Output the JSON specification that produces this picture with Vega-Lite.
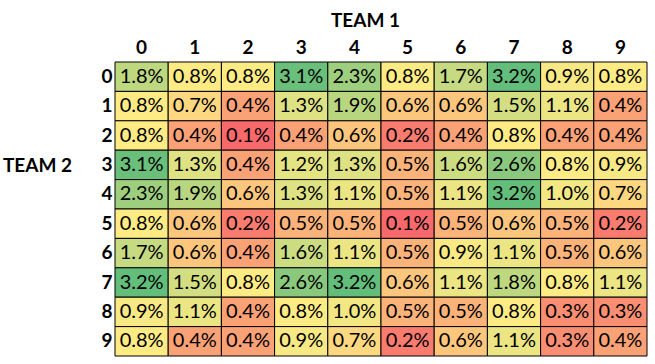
{
  "$schema": "https://vega.github.io/schema/vega-lite/v6.json",
  "width": 532,
  "height": 294,
  "autosize": {"type": "none"},
  "padding": {"left": 115, "top": 62, "right": 8, "bottom": 8},
  "background": "white",
  "config": {"view": {"stroke": null}, "font": "Lato"},
  "data": {"values": [
    {"t2":0,"t1":0,"v":0.018},{"t2":0,"t1":1,"v":0.008},{"t2":0,"t1":2,"v":0.008},{"t2":0,"t1":3,"v":0.031},{"t2":0,"t1":4,"v":0.023},{"t2":0,"t1":5,"v":0.008},{"t2":0,"t1":6,"v":0.017},{"t2":0,"t1":7,"v":0.032},{"t2":0,"t1":8,"v":0.009},{"t2":0,"t1":9,"v":0.008},
    {"t2":1,"t1":0,"v":0.008},{"t2":1,"t1":1,"v":0.007},{"t2":1,"t1":2,"v":0.004},{"t2":1,"t1":3,"v":0.013},{"t2":1,"t1":4,"v":0.019},{"t2":1,"t1":5,"v":0.006},{"t2":1,"t1":6,"v":0.006},{"t2":1,"t1":7,"v":0.015},{"t2":1,"t1":8,"v":0.011},{"t2":1,"t1":9,"v":0.004},
    {"t2":2,"t1":0,"v":0.008},{"t2":2,"t1":1,"v":0.004},{"t2":2,"t1":2,"v":0.001},{"t2":2,"t1":3,"v":0.004},{"t2":2,"t1":4,"v":0.006},{"t2":2,"t1":5,"v":0.002},{"t2":2,"t1":6,"v":0.004},{"t2":2,"t1":7,"v":0.008},{"t2":2,"t1":8,"v":0.004},{"t2":2,"t1":9,"v":0.004},
    {"t2":3,"t1":0,"v":0.031},{"t2":3,"t1":1,"v":0.013},{"t2":3,"t1":2,"v":0.004},{"t2":3,"t1":3,"v":0.012},{"t2":3,"t1":4,"v":0.013},{"t2":3,"t1":5,"v":0.005},{"t2":3,"t1":6,"v":0.016},{"t2":3,"t1":7,"v":0.026},{"t2":3,"t1":8,"v":0.008},{"t2":3,"t1":9,"v":0.009},
    {"t2":4,"t1":0,"v":0.023},{"t2":4,"t1":1,"v":0.019},{"t2":4,"t1":2,"v":0.006},{"t2":4,"t1":3,"v":0.013},{"t2":4,"t1":4,"v":0.011},{"t2":4,"t1":5,"v":0.005},{"t2":4,"t1":6,"v":0.011},{"t2":4,"t1":7,"v":0.032},{"t2":4,"t1":8,"v":0.010},{"t2":4,"t1":9,"v":0.007},
    {"t2":5,"t1":0,"v":0.008},{"t2":5,"t1":1,"v":0.006},{"t2":5,"t1":2,"v":0.002},{"t2":5,"t1":3,"v":0.005},{"t2":5,"t1":4,"v":0.005},{"t2":5,"t1":5,"v":0.001},{"t2":5,"t1":6,"v":0.005},{"t2":5,"t1":7,"v":0.006},{"t2":5,"t1":8,"v":0.005},{"t2":5,"t1":9,"v":0.002},
    {"t2":6,"t1":0,"v":0.017},{"t2":6,"t1":1,"v":0.006},{"t2":6,"t1":2,"v":0.004},{"t2":6,"t1":3,"v":0.016},{"t2":6,"t1":4,"v":0.011},{"t2":6,"t1":5,"v":0.005},{"t2":6,"t1":6,"v":0.009},{"t2":6,"t1":7,"v":0.011},{"t2":6,"t1":8,"v":0.005},{"t2":6,"t1":9,"v":0.006},
    {"t2":7,"t1":0,"v":0.032},{"t2":7,"t1":1,"v":0.015},{"t2":7,"t1":2,"v":0.008},{"t2":7,"t1":3,"v":0.026},{"t2":7,"t1":4,"v":0.032},{"t2":7,"t1":5,"v":0.006},{"t2":7,"t1":6,"v":0.011},{"t2":7,"t1":7,"v":0.018},{"t2":7,"t1":8,"v":0.008},{"t2":7,"t1":9,"v":0.011},
    {"t2":8,"t1":0,"v":0.009},{"t2":8,"t1":1,"v":0.011},{"t2":8,"t1":2,"v":0.004},{"t2":8,"t1":3,"v":0.008},{"t2":8,"t1":4,"v":0.010},{"t2":8,"t1":5,"v":0.005},{"t2":8,"t1":6,"v":0.005},{"t2":8,"t1":7,"v":0.008},{"t2":8,"t1":8,"v":0.003},{"t2":8,"t1":9,"v":0.003},
    {"t2":9,"t1":0,"v":0.008},{"t2":9,"t1":1,"v":0.004},{"t2":9,"t1":2,"v":0.004},{"t2":9,"t1":3,"v":0.009},{"t2":9,"t1":4,"v":0.007},{"t2":9,"t1":5,"v":0.002},{"t2":9,"t1":6,"v":0.006},{"t2":9,"t1":7,"v":0.011},{"t2":9,"t1":8,"v":0.003},{"t2":9,"t1":9,"v":0.004}
  ]},
  "encoding": {
    "x": {"field": "t1", "type": "ordinal", "scale": {"paddingInner": 0, "paddingOuter": 0},
      "axis": {"orient": "top", "title": "TEAM 1", "titleFontSize": 19, "titleFontWeight": "bold", "titleColor": "black",
        "titleX": 250, "titleY": -42, "titleBaseline": "middle", "titleAlign": "center",
        "labelAngle": 0, "labelFontSize": 19, "labelFontWeight": "bold", "labelColor": "black",
        "ticks": false, "domain": false, "labelPadding": 5}},
    "y": {"field": "t2", "type": "ordinal", "scale": {"paddingInner": 0, "paddingOuter": 0},
      "axis": {"title": "TEAM 2", "titleFontSize": 19, "titleFontWeight": "bold", "titleColor": "black",
        "titleAngle": 0, "titleX": -78, "titleY": 103, "titleBaseline": "middle", "titleAlign": "center",
        "labelFontSize": 19, "labelFontWeight": "bold", "labelColor": "black",
        "ticks": false, "domain": false, "labelPadding": 3}}
  },
  "layer": [
    {"mark": {"type": "rect", "stroke": "black", "strokeWidth": 1},
     "encoding": {"color": {"field": "v", "type": "quantitative", "legend": null,
        "scale": {"domain": [0.001, 0.008, 0.032], "range": ["#F8696B", "#FFEB84", "#63BE7B"], "interpolate": "rgb"}}}},
    {"mark": {"type": "text", "fontSize": 20, "color": "black", "baseline": "middle", "align": "center"},
     "encoding": {"text": {"field": "v", "type": "quantitative", "format": ".1%"}}}
  ]
}
